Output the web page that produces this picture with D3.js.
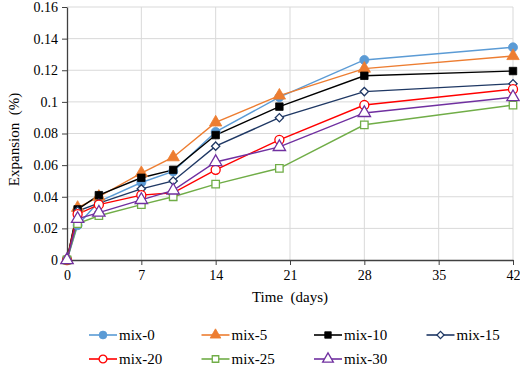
<!DOCTYPE html>
<html>
<head>
<meta charset="utf-8">
<script src="https://cdn.jsdelivr.net/npm/d3@7"></script>
<style>
  body { margin: 0; background: #fff; }
</style>
</head>
<body>
<div id="wrapper"></div>
<script>
// data
const days = [0, 1, 3, 7, 10, 14, 20, 28, 42];
const mix0  = [0, 0.022, 0.037, 0.049, 0.056, 0.081, 0.103, 0.1265, 0.1345];
const mix5  = [0, 0.033, 0.040, 0.055, 0.065, 0.087, 0.104, 0.121, 0.129];
const mix10 = [0, 0.032, 0.041, 0.052, 0.057, 0.079, 0.097, 0.1165, 0.1195];
const mix15 = [0, 0.031, 0.036, 0.045, 0.050, 0.072, 0.090, 0.1065, 0.1115];
const mix20 = [0, 0.029, 0.035, 0.041, 0.0425, 0.057, 0.076, 0.098, 0.108];
const mix25 = [0, 0.023, 0.028, 0.035, 0.040, 0.048, 0.058, 0.0855, 0.098];
const mix30 = [0, 0.026, 0.030, 0.038, 0.044, 0.062, 0.0715, 0.093, 0.103];
const seriesNames = ["mix-0", "mix-5", "mix-10", "mix-15", "mix-20", "mix-25", "mix-30"];
const xTicks = [0, 7, 14, 21, 28, 35, 42];
const yTicks = [0, 0.02, 0.04, 0.06, 0.08, 0.1, 0.12, 0.14, 0.16];

const series = [
  { name: seriesNames[0], values: mix0,  color: "#5B9BD5", shape: "circle",   filled: true },
  { name: seriesNames[1], values: mix5,  color: "#ED7D31", shape: "triangle", filled: true },
  { name: seriesNames[2], values: mix10, color: "#000000", shape: "square",   filled: true },
  { name: seriesNames[3], values: mix15, color: "#1F3864", shape: "diamond",  filled: false },
  { name: seriesNames[4], values: mix20, color: "#FF0000", shape: "circle",   filled: false },
  { name: seriesNames[5], values: mix25, color: "#70AD47", shape: "square",   filled: false },
  { name: seriesNames[6], values: mix30, color: "#7030A0", shape: "triangle", filled: false }
];

const FONT = "'Liberation Serif', 'Times New Roman', serif";

const dimensions = {
  width: 520,
  height: 368,
  margin: { top: 7, right: 7, bottom: 108, left: 67 }
};
dimensions.boundedWidth = dimensions.width - dimensions.margin.left - dimensions.margin.right;
dimensions.boundedHeight = dimensions.height - dimensions.margin.top - dimensions.margin.bottom;

const svg = d3.select("#wrapper").append("svg")
  .attr("width", dimensions.width)
  .attr("height", dimensions.height);
const bounds = svg.append("g")
  .attr("transform", `translate(${dimensions.margin.left},${dimensions.margin.top})`);

const xScale = d3.scaleLinear().domain([0, 42]).range([0, dimensions.boundedWidth]);
const yScale = d3.scaleLinear().domain([0, 0.16]).range([dimensions.boundedHeight, 0]);

// grid
bounds.append("g").selectAll("line").data(yTicks.slice(1)).join("line")
  .attr("x1", 0).attr("x2", dimensions.boundedWidth)
  .attr("y1", d => yScale(d)).attr("y2", d => yScale(d))
  .attr("stroke", "#D9D9D9").attr("stroke-width", 1);
bounds.append("g").selectAll("line").data(xTicks.slice(1)).join("line")
  .attr("x1", d => xScale(d)).attr("x2", d => xScale(d))
  .attr("y1", 0).attr("y2", dimensions.boundedHeight)
  .attr("stroke", "#D9D9D9").attr("stroke-width", 1);

// axes
const xAxis = bounds.append("g")
  .attr("transform", `translate(0,${dimensions.boundedHeight})`)
  .call(d3.axisBottom(xScale).tickValues(xTicks).tickSize(5).tickPadding(5).tickSizeOuter(0));
const yAxis = bounds.append("g")
  .call(d3.axisLeft(yScale).tickValues(yTicks).tickSize(5).tickPadding(4).tickSizeOuter(0)
    .tickFormat(d => d === 0 ? "0" : String(+d.toFixed(2))));
[xAxis, yAxis].forEach(a => {
  a.attr("font-family", null).attr("font-size", null);
  a.select(".domain").attr("stroke", "#404040").attr("stroke-width", 1.3);
  a.selectAll(".tick line").attr("stroke", "#404040");
  a.selectAll("text").style("font-size", "14px").style("font-family", FONT).attr("fill", "#000");
});

svg.append("text")
  .attr("x", dimensions.margin.left + dimensions.boundedWidth / 2)
  .attr("y", 302)
  .attr("text-anchor", "middle")
  .style("font-family", FONT)
  .style("font-size", "15px")
  .style("white-space", "pre")
  .text("Time  (days)");
svg.append("text")
  .attr("transform", `translate(19,${dimensions.margin.top + dimensions.boundedHeight / 2 + 6}) rotate(-90)`)
  .attr("text-anchor", "middle")
  .style("font-family", FONT)
  .style("font-size", "15px")
  .style("white-space", "pre")
  .text("Expansion  (%)");

// markers
const symbolTypes = {
  circle: d3.symbolCircle,
  triangle: d3.symbolTriangle,
  square: d3.symbolSquare,
  diamond: d3.symbolSquare
};
const symbolSizes = { circle: 64, triangle: 66, square: 56, diamond: 34 };
function drawMarker(g, s, scale) {
  g.append("path")
    .attr("d", d3.symbol().type(symbolTypes[s.shape]).size(symbolSizes[s.shape] * scale)())
    .attr("transform", s.shape === "diamond" ? "rotate(45)" : null)
    .attr("fill", s.filled ? s.color : "#fff")
    .attr("stroke", s.color)
    .attr("stroke-width", s.filled ? 0.8 : 1.3);
}

const line = d3.line()
  .x((d, i) => xScale(days[i]))
  .y(d => yScale(d));

series.forEach(s => {
  bounds.append("path")
    .datum(s.values)
    .attr("d", line)
    .attr("fill", "none")
    .attr("stroke", s.color)
    .attr("stroke-width", 1.4);
});
series.forEach(s => {
  const g = bounds.append("g");
  s.values.forEach((v, i) => {
    const m = g.append("g").attr("transform", `translate(${xScale(days[i])},${yScale(v)})`);
    drawMarker(m, s, 1);
  });
});

// legend
const legend = svg.append("g");
series.forEach((s, i) => {
  const col = i % 4, row = Math.floor(i / 4);
  const lg = legend.append("g")
    .attr("transform", `translate(${89 + col * 112.5},${335 + row * 24})`);
  lg.append("line").attr("x1", 0).attr("x2", 28).attr("y1", 0).attr("y2", 0)
    .attr("stroke", s.color).attr("stroke-width", 1.6);
  const m = lg.append("g").attr("transform", "translate(14,0)");
  drawMarker(m, s, 0.75);
  lg.append("text").attr("x", 30).attr("y", 5)
    .style("font-family", FONT)
    .style("font-size", "15px")
    .text(s.name);
});
</script>
</body>
</html>
